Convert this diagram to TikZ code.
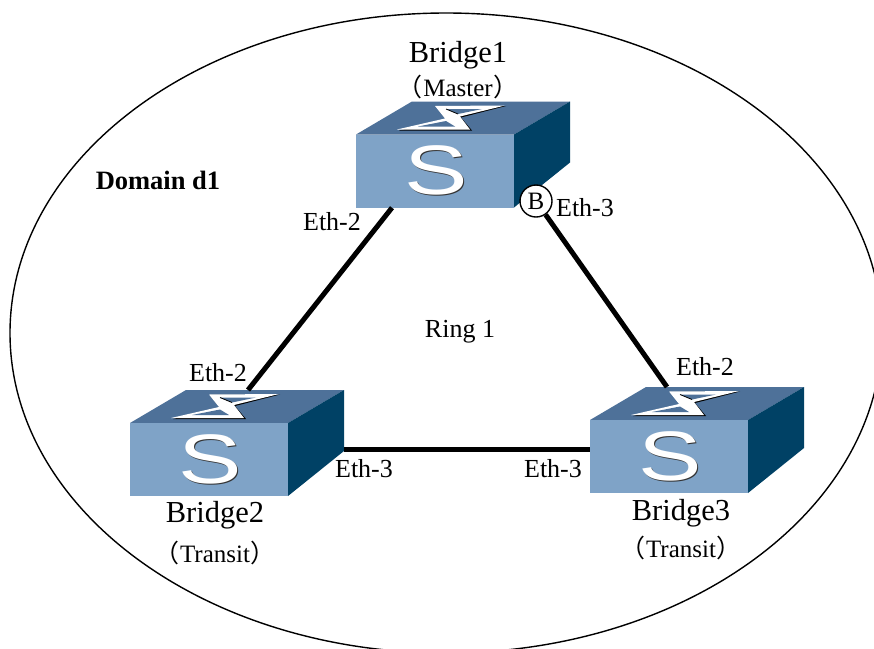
\documentclass[tikz,border=0pt]{standalone}
\usepackage{fontspec}
\setmainfont{Liberation Serif}
\newfontfamily\cjkfont{Noto Sans CJK SC}
\newfontfamily\iconfont{Liberation Sans}
\definecolor{frontBlue}{RGB}{127,163,199}
\definecolor{topBlue}{RGB}{78,113,153}
\definecolor{sideBlue}{RGB}{0,65,101}
\newcommand{\fsize}[1]{\fontsize{#1}{#1}\selectfont}
\newcommand{\brk}[1]{{\cjkfont（}\kern1pt#1\kern1pt{\cjkfont）}}
\tikzset{
    portText/.style={inner sep=0pt, font=\fsize{26}},
    bridgeText/.style={inner sep=0pt, font=\fsize{30.5}},
    roleText/.style={inner sep=0pt, font=\fsize{25}},
    link/.style={line width=5pt, black},
    front/.style={fill=frontBlue, minimum width=158pt, minimum height=73pt, inner sep=0pt},
    bridge/.pic={
        \fill[topBlue] (0,0) -- (56,-33) -- (214,-33) -- (158,0) -- cycle;
        \fill[sideBlue] (158,0) -- (214,-33) -- (214,28) -- (158,73) -- cycle;
        \node[front] (-front) at (79,36.5) {};
        \coordinate (-back) at (135,-33);
        % zigzag on the top face
        \fill[black] (80,-28) -- (150,-28.5) -- (105,-17) -- (116,-4) -- (43,-4) -- (90,-15) -- cycle;
        \fill[white] (79,-28.5) -- (149,-29) -- (104,-18) -- (114,-5) -- (41,-5) -- (89,-16) -- cycle;
        \fill[topBlue] (90,-25.5) -- (126,-25.5) -- (102,-20.5) -- cycle
            (62,-8) -- (90,-13.5) -- (99,-8) -- cycle;
        \draw[black, line width=0.8pt] (90,-25.5) -- (102,-20.5);
        \node[inner sep=0pt, text=black!80, font=\iconfont\fsize{70}] (-shade) at (81.2,37) {\scalebox{1.36}[1]{S}};
        \node[inner sep=0pt, text=white, font=\iconfont\fsize{70}] (-letter) at (80,36) {\scalebox{1.36}[1]{S}};
    }
}
\begin{document}
\begin{tikzpicture}[x=1pt,y=-1pt]
    \useasboundingbox (0,0) rectangle (874,648);
    \clip (0,0) rectangle (874,648);
    \fill[white] (0,0) rectangle (874,648);
    \draw[line width=1.4pt] (446,333) ellipse (436 and 320);

    \pic (br1) at (356,134.5) {bridge};
    \pic (br2) at (130,423) {bridge};
    \pic (br3) at (590,420) {bridge};

    \node[circle, draw, line width=1.4pt, fill=white, minimum size=32pt, inner sep=0pt, font=\fsize{25}] (b) at (536,201) {B};

    \draw[link] ([xshift=-43pt]br1-front.south) -- ([xshift=-17pt]br2-back);
    \draw[link] (b) -- ([xshift=-58pt]br3-back);
    \draw[link] ([xshift=56pt,yshift=10pt]br2-front.east) -- ([yshift=7pt]br3-front.west);

    \node[bridgeText] (n1) at (458,55) {Bridge1};
    \node[roleText] (r1) at (458,87) {\brk{Master}};
    \node[bridgeText] (n2) at (215,515) {Bridge2};
    \node[roleText] (r2) at (215,553) {\brk{Transit}};
    \node[bridgeText] (n3) at (681,513) {Bridge3};
    \node[roleText] (r3) at (681,548) {\brk{Transit}};

    \node[portText] (e12) at (332,222) {Eth-2};
    \node[portText] (e13) at (585,208) {Eth-3};
    \node[portText] (e22) at (218,373) {Eth-2};
    \node[portText] (e23) at (364,469) {Eth-3};
    \node[portText] (e33) at (553,469) {Eth-3};
    \node[portText] (e32) at (705,367) {Eth-2};
    \node[portText] (ring) at (460,332) {Ring 1};
    \node[portText, font=\fsize{26.5}\bfseries] (dom) at (158,180) {Domain d1};
\end{tikzpicture}
\end{document}
